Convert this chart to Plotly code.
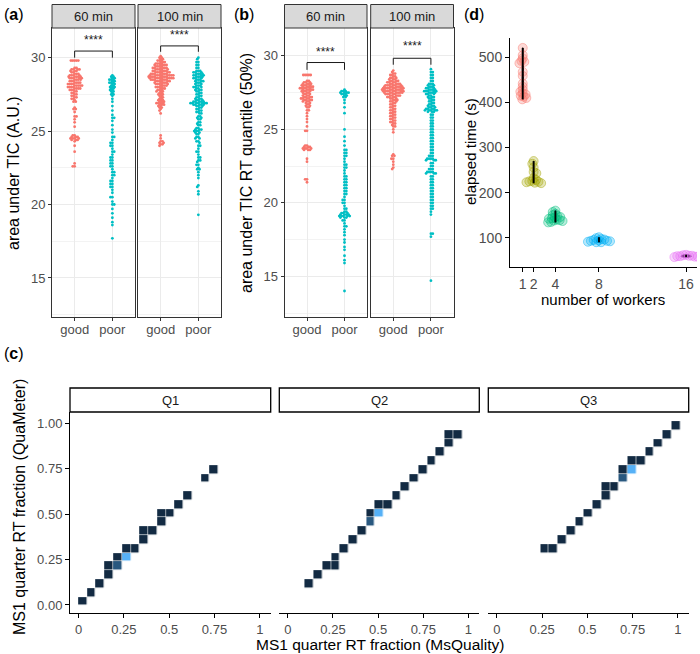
import numpy as np
import plotly.graph_objects as go

W, H = 700, 654
def px(x): return x / W
def py(y): return 1 - y / H

# ---------------- data: panel (a) area under TIC, (level, count) ----------------
a60_good_lv = [29.8, 29.3, 29.2, 29.1, 29.0, 28.9, 28.8, 28.7, 28.6, 28.5, 28.4, 28.3, 28.2, 28.1, 28.0, 27.9, 27.8, 27.7, 27.6, 27.5, 27.4, 27.3, 27.2, 27.1, 27.0, 26.6, 26.5, 26.3, 26.0, 25.8, 25.6, 25.3, 24.7, 24.6, 24.5, 24.4, 24.3, 24.0, 23.6, 22.8, 22.6]
a60_good_n  = [5, 2, 4, 3, 2, 3, 4, 5, 5, 4, 3, 4, 4, 5, 4, 4, 3, 2, 2, 2, 2, 2, 2, 1, 2, 1, 2, 1, 2, 1, 1, 1, 2, 3, 4, 3, 1, 1, 1, 1, 2]
a60_poor_lv = [28.8, 28.7, 28.6, 28.5, 28.4, 28.3, 28.2, 28.1, 28.0, 27.9, 27.8, 27.7, 27.6, 27.5, 27.4, 27.2, 27.0, 26.7, 26.4, 26.1, 25.9, 25.7, 25.4, 25.1, 24.9, 24.6, 24.4, 24.2, 24.0, 23.8, 23.6, 23.4, 23.2, 23.0, 22.8, 22.6, 22.4, 22.2, 22.0, 21.8, 21.6, 21.4, 21.2, 21.0, 20.8, 20.5, 20.2, 20.0, 19.7, 19.4, 19.1, 18.8, 18.6, 17.7]
a60_poor_n  = [1, 2, 2, 3, 2, 3, 2, 2, 3, 2, 2, 2, 1, 2, 1, 1, 1, 1, 1, 1, 2, 1, 1, 1, 1, 2, 1, 2, 2, 1, 2, 1, 2, 2, 2, 2, 1, 2, 2, 1, 2, 2, 2, 1, 1, 2, 1, 2, 1, 1, 1, 1, 1, 1]
a100_good_lv = [30.1, 30.0, 29.9, 29.8, 29.7, 29.6, 29.5, 29.4, 29.3, 29.2, 29.1, 29.0, 28.9, 28.8, 28.7, 28.6, 28.5, 28.4, 28.3, 28.2, 28.1, 28.0, 27.9, 27.8, 27.7, 27.6, 27.5, 27.4, 27.3, 27.2, 27.1, 27.0, 26.9, 26.8, 26.7, 26.6, 26.5, 26.4, 26.2, 24.7, 24.5, 24.3, 24.2, 24.1, 24.0]
a100_good_n  = [1, 2, 2, 3, 3, 4, 5, 4, 6, 5, 6, 6, 7, 9, 8, 9, 7, 6, 5, 5, 4, 4, 3, 3, 3, 2, 3, 2, 2, 2, 3, 3, 4, 3, 2, 2, 1, 1, 1, 1, 1, 2, 2, 2, 1]
a100_poor_lv = [30.0, 29.9, 29.7, 29.5, 29.3, 29.1, 29.0, 28.9, 28.8, 28.7, 28.6, 28.5, 28.4, 28.3, 28.2, 28.1, 28.0, 27.9, 27.8, 27.7, 27.6, 27.5, 27.4, 27.3, 27.2, 27.1, 27.0, 26.9, 26.8, 26.7, 26.6, 26.5, 26.4, 26.3, 26.2, 26.0, 25.9, 25.8, 25.6, 25.5, 25.4, 25.2, 25.1, 25.0, 24.9, 24.8, 24.6, 24.5, 24.3, 24.2, 24.0, 23.8, 23.6, 23.4, 23.2, 23.0, 22.9, 22.7, 22.5, 22.4, 22.2, 22.0, 21.8, 21.3, 21.2, 20.9, 20.7, 19.3]
a100_poor_n  = [1, 1, 2, 2, 2, 3, 3, 4, 4, 4, 3, 3, 3, 3, 2, 3, 3, 2, 3, 2, 2, 2, 2, 2, 3, 3, 5, 7, 5, 3, 2, 2, 2, 2, 2, 2, 2, 2, 2, 1, 2, 2, 3, 3, 2, 2, 2, 2, 2, 1, 2, 1, 2, 1, 2, 2, 1, 2, 1, 2, 1, 1, 1, 1, 1, 1, 1, 1]

# ---------------- data: panel (b) area under TIC RT quantile (50%) ----------------
b60_good_lv = [28.7, 28.3, 28.2, 28.1, 28.0, 27.9, 27.8, 27.7, 27.6, 27.5, 27.4, 27.3, 27.2, 27.1, 27.0, 26.9, 26.8, 26.7, 26.6, 26.5, 26.3, 26.1, 25.9, 25.7, 25.5, 25.2, 24.9, 23.9, 23.8, 23.7, 23.6, 23.0, 22.8, 21.6, 21.4]
b60_good_n  = [5, 2, 3, 4, 4, 5, 5, 5, 4, 3, 3, 3, 4, 4, 4, 3, 2, 2, 2, 2, 2, 1, 1, 1, 1, 1, 2, 2, 3, 4, 3, 1, 1, 2, 1]
b60_poor_lv = [27.7, 27.6, 27.5, 27.4, 27.3, 27.2, 27.0, 26.8, 26.5, 26.1, 25.0, 24.5, 24.2, 23.9, 23.6, 23.4, 23.2, 23.0, 22.8, 22.6, 22.4, 22.2, 22.0, 21.8, 21.6, 21.4, 21.2, 21.0, 20.8, 20.6, 20.4, 20.2, 20.0, 19.8, 19.6, 19.4, 19.3, 19.2, 19.1, 19.0, 18.8, 18.6, 18.4, 18.2, 18.0, 17.8, 17.5, 17.3, 17.0, 16.8, 16.4, 16.1, 15.9, 14.0]
b60_poor_n  = [1, 3, 4, 3, 2, 2, 1, 1, 1, 1, 1, 1, 1, 1, 2, 2, 2, 1, 1, 2, 2, 1, 1, 2, 2, 2, 2, 2, 2, 2, 1, 2, 2, 1, 2, 2, 3, 4, 5, 3, 2, 1, 2, 1, 1, 1, 1, 1, 1, 1, 1, 1, 1, 1]
b100_good_lv = [29.0, 28.9, 28.8, 28.7, 28.6, 28.5, 28.4, 28.3, 28.2, 28.1, 28.0, 27.9, 27.8, 27.7, 27.6, 27.5, 27.4, 27.3, 27.2, 27.1, 27.0, 26.9, 26.8, 26.7, 26.6, 26.5, 26.4, 26.3, 26.2, 26.1, 26.0, 25.9, 25.8, 25.7, 25.6, 25.5, 25.4, 25.3, 25.2, 25.0, 24.8, 23.3, 23.2, 23.0, 22.8, 22.6, 22.4, 22.3]
b100_good_n  = [1, 1, 2, 2, 2, 3, 3, 4, 4, 5, 6, 7, 8, 8, 8, 7, 5, 5, 4, 3, 3, 3, 2, 2, 2, 2, 2, 2, 2, 2, 2, 2, 2, 2, 2, 2, 2, 1, 2, 1, 1, 1, 2, 2, 1, 1, 1, 1]
b100_poor_lv = [29.1, 28.9, 28.7, 28.5, 28.3, 28.1, 28.0, 27.9, 27.8, 27.7, 27.6, 27.5, 27.4, 27.3, 27.2, 27.1, 27.0, 26.9, 26.8, 26.7, 26.6, 26.5, 26.4, 26.3, 26.2, 26.0, 25.8, 25.6, 25.4, 25.2, 25.0, 24.8, 24.6, 24.4, 24.2, 24.0, 23.8, 23.6, 23.4, 23.2, 23.0, 22.9, 22.7, 22.5, 22.3, 22.1, 22.0, 21.8, 21.6, 21.4, 21.2, 21.0, 20.8, 20.6, 20.4, 20.2, 20.0, 19.8, 19.6, 19.4, 19.2, 17.9, 17.7, 14.7]
b100_poor_n  = [1, 2, 2, 2, 2, 3, 2, 3, 3, 4, 5, 4, 3, 2, 3, 2, 2, 2, 2, 2, 3, 3, 4, 5, 3, 2, 2, 2, 2, 2, 2, 2, 2, 2, 2, 2, 2, 2, 2, 3, 4, 3, 2, 2, 3, 4, 3, 2, 2, 2, 2, 2, 2, 2, 2, 2, 2, 2, 2, 1, 1, 2, 1, 1]

groups = ["good", "poor"]
signif = "****"

# ---------------- data: panel (d) elapsed time ----------------
workers = [1, 2, 4, 8, 16]
elapsed = [
    [521, 505, 498, 492, 490, 487, 468, 459, 442, 435, 428, 424, 420, 418, 415, 413, 410, 407],
    [270, 264, 256, 246, 243, 232, 228, 226, 225, 224, 223, 222, 221],
    [160, 157, 153, 150, 148, 146, 145, 143, 142, 140, 139, 138, 137, 135, 134],
    [101, 99, 97, 96, 95, 94, 93, 93, 92, 91, 90, 90],
    [62, 61, 60, 60, 59, 59, 58, 58, 57],
]
worker_colors = ["#F8766D", "#A3A500", "#00BF7D", "#00B0F6", "#E76BF3"]

# ---------------- data: panel (c) 2D bins (bin index, count) ----------------
bin_centers = [0.022, 0.070, 0.119, 0.167, 0.215, 0.264, 0.312, 0.360, 0.408, 0.457, 0.505,
               0.553, 0.602, 0.650, 0.698, 0.746, 0.795, 0.843, 0.891, 0.940, 0.988]
q1_i = [0, 1, 2, 3, 3, 4, 4, 5, 5, 6, 7, 7, 8, 9, 9, 10, 11, 12, 14, 15]
q1_j = [0, 1, 2, 3, 4, 4, 5, 5, 6, 6, 7, 8, 8, 9, 10, 10, 11, 12, 14, 15]
q1_n = [1, 1, 1, 1, 1, 2, 1, 4, 1, 1, 1, 1, 1, 1, 1, 1, 1, 1, 1, 1]
q2_i = [2, 3, 4, 5, 5, 6, 7, 8, 9, 9, 10, 10, 11, 12, 13, 14, 15, 16, 17, 18, 18, 19]
q2_j = [2, 3, 4, 4, 5, 6, 7, 8, 9, 10, 10, 11, 11, 12, 13, 14, 15, 16, 17, 18, 19, 19]
q2_n = [1, 1, 1, 1, 1, 1, 1, 1, 2, 1, 4, 1, 1, 1, 1, 1, 1, 1, 1, 1, 1, 1]
q3_i = [5, 6, 7, 8, 9, 10, 11, 12, 12, 13, 14, 14, 15, 15, 16, 17, 18, 19, 20]
q3_j = [6, 6, 7, 8, 9, 10, 11, 12, 13, 13, 14, 15, 15, 16, 16, 17, 18, 19, 20]
q3_n = [1, 1, 1, 1, 1, 1, 1, 1, 1, 1, 2, 1, 4, 1, 1, 1, 1, 1, 1]
quarters = ["Q1", "Q2", "Q3"]

# ---------------- helpers ----------------
RED, TEAL = "#F8766D", "#00BFC4"
FONT = "Liberation Sans, Arial, Helvetica, sans-serif"
TICKC = "#4D4D4D"


def swarm(vals, y_ppu, x_ppu, d):
    ypx = np.asarray(vals, dtype=float) * y_ppu
    order = np.argsort(-ypx, kind="stable")
    placed_y, placed_x = [], []
    xs = np.zeros(len(ypx))
    for k, idx in enumerate(order):
        y = ypx[idx]
        near = [(yy, xx) for yy, xx in zip(placed_y, placed_x) if abs(yy - y) < d]
        cands = [0.0]
        for yy, xx in near:
            dx = np.sqrt(max(d * d - (yy - y) ** 2, 0))
            cands += [xx + dx, xx - dx]
        sign = 1 if k % 2 else -1
        cands.sort(key=lambda c: (round(abs(c), 6), sign * c))
        for c in cands:
            if all((c - xx) ** 2 + (y - yy) ** 2 >= d * d - 1e-6 for yy, xx in near):
                xs[idx] = c
                break
        placed_y.append(y)
        placed_x.append(xs[idx])
    return xs / x_ppu


fig = go.Figure()

Y_PPU = 14.67
X_PPU = 37.65
DOT = 1.85

panels_ab = [
    ("x", "y", a60_good_lv, a60_good_n, a60_poor_lv, a60_poor_n),
    ("x2", "y2", a100_good_lv, a100_good_n, a100_poor_lv, a100_poor_n),
    ("x3", "y3", b60_good_lv, b60_good_n, b60_poor_lv, b60_poor_n),
    ("x4", "y4", b100_good_lv, b100_good_n, b100_poor_lv, b100_poor_n),
]
for xa, ya, glv, gn, plv, pn in panels_ab:
    for pos, lv, n, col in [(1, glv, gn, RED), (2, plv, pn, TEAL)]:
        vals = np.repeat(lv, n)
        off = swarm(vals, Y_PPU, X_PPU, DOT)
        fig.add_trace(go.Scatter(x=pos + off, y=vals, mode="markers", xaxis=xa, yaxis=ya,
                                 marker=dict(size=2.8, color=col, line=dict(width=0)),
                                 hoverinfo="skip", showlegend=False))

# panel (d)
D_YPPU, D_XPPU = 0.45, 10.87
for w, vals, col in zip(workers, elapsed, worker_colors):
    off = swarm(vals, D_YPPU, D_XPPU, 3.0)
    r, g, b = int(col[1:3], 16), int(col[3:5], 16), int(col[5:7], 16)
    fig.add_trace(go.Scatter(x=w + off, y=vals, mode="markers", xaxis="x5", yaxis="y5",
                             marker=dict(size=9, color=f"rgba({r},{g},{b},0.28)",
                                         line=dict(width=1, color=f"rgba({r},{g},{b},0.45)")),
                             hoverinfo="skip", showlegend=False))
for w, vals in zip(workers, elapsed):
    fig.add_trace(go.Scatter(x=[w, w], y=[min(vals), max(vals)], mode="lines", xaxis="x5",
                             yaxis="y5", line=dict(color="black", width=1.8),
                             hoverinfo="skip", showlegend=False))
    rng = max(vals) - min(vals)
    fig.add_trace(go.Violin(x0=w, y=vals, xaxis="x5", yaxis="y5", width=max(4.8 / rng, 0.16),
                            spanmode="hard", fillcolor="black", line=dict(color="black", width=1),
                            points=False, box=dict(visible=False), meanline=dict(visible=False),
                            hoverinfo="skip", showlegend=False, opacity=1))

# panel (c)
for k, (qi, qj, qn) in enumerate([(q1_i, q1_j, q1_n), (q2_i, q2_j, q2_n), (q3_i, q3_j, q3_n)]):
    z = [[None] * len(bin_centers) for _ in bin_centers]
    for i, j, n in zip(qi, qj, qn):
        z[j][i] = n
    fig.add_trace(go.Heatmap(x=bin_centers, y=bin_centers, z=z, xaxis=f"x{6+k}", yaxis=f"y{6+k}",
                             colorscale=[[0, "#132B43"], [1, "#56B1F7"]], zmin=1, zmax=4,
                             showscale=False, xgap=0.6, ygap=0.6, hoverinfo="skip"))

# ---------------- axes ----------------
lay = dict(width=W, height=H, margin=dict(l=0, r=0, t=0, b=0), paper_bgcolor="white",
           plot_bgcolor="white", showlegend=False, font=dict(family=FONT, color="#1A1A1A"),
           violinmode="overlay")

AB_BOT = 317
ab_x = [(52, 135), (138, 221), (284.5, 367), (370.7, 453.5)]
ab_yr = [[12.34, 32.02], [12.34, 32.02], [12.23, 31.9], [12.23, 31.9]]
for k in range(4):
    sx = "" if k == 0 else str(k + 1)
    x0, x1 = ab_x[k]
    lay["xaxis" + sx] = dict(domain=[px(x0), px(x1)], range=[0.4, 2.6], anchor="y" + sx,
                             tickvals=[1, 2], ticktext=groups, showline=True, mirror=True,
                             linecolor="#333333", linewidth=1, ticks="outside", ticklen=3,
                             tickcolor="#333333", showgrid=True, gridcolor="#EBEBEB", gridwidth=1,
                             zeroline=False, tickfont=dict(size=13, color=TICKC, family=FONT),
                             ticklabelstandoff=-3)
    lay["yaxis" + sx] = dict(domain=[py(AB_BOT), py(28)], range=ab_yr[k], anchor="x" + sx,
                             tick0=0, dtick=5, showline=True, mirror=True, linecolor="#333333",
                             linewidth=1, ticks="outside" if k in (0, 2) else "", ticklen=3,
                             tickcolor="#333333", showticklabels=k in (0, 2),
                             showgrid=True, gridcolor="#EBEBEB", gridwidth=1, zeroline=False,
                             minor=dict(tick0=0, dtick=2.5, showgrid=True, gridcolor="#F3F3F3",
                                        gridwidth=0.6),
                             tickfont=dict(size=13, color=TICKC, family=FONT))

lay["xaxis5"] = dict(domain=[px(510), px(697)], range=[-0.17, 17.0], anchor="y5",
                     tickvals=workers, showline=True, linecolor="black", linewidth=1,
                     ticks="outside", ticklen=4, tickcolor="black", showgrid=False, zeroline=False,
                     tickfont=dict(size=14, color=TICKC, family=FONT))
lay["yaxis5"] = dict(domain=[py(267), py(38)], range=[35, 543], anchor="x5",
                     tickvals=[100, 200, 300, 400, 500], showline=True, linecolor="black",
                     linewidth=1, ticks="outside", ticklen=4, tickcolor="black", showgrid=False,
                     zeroline=False, tickfont=dict(size=14, color=TICKC, family=FONT))

c_x = [(70, 270.7), (279.3, 479.3), (488.3, 688.7)]
for k in range(3):
    sx = str(6 + k)
    x0, x1 = c_x[k]
    lay["xaxis" + sx] = dict(domain=[px(x0), px(x1)], range=[-0.047, 1.06], anchor="y" + sx,
                             tickvals=[0, 0.25, 0.5, 0.75, 1], ticktext=["0", "0.25", "0.5", "0.75", "1"],
                             showline=True, linecolor="black", linewidth=1, ticks="outside",
                             ticklen=4, tickcolor="black", showgrid=False, zeroline=False,
                             tickfont=dict(size=13, color=TICKC, family=FONT))
    lay["yaxis" + sx] = dict(domain=[py(613.3), py(412)], range=[-0.046, 1.062], anchor="x" + sx,
                             tickvals=[0, 0.25, 0.5, 0.75, 1],
                             ticktext=["0.00", "0.25", "0.50", "0.75", "1.00"],
                             showline=(k == 0), linecolor="black", linewidth=1,
                             ticks="outside" if k == 0 else "", ticklen=4, tickcolor="black",
                             showticklabels=(k == 0), showgrid=False, zeroline=False,
                             tickfont=dict(size=13, color=TICKC, family=FONT))

fig.update_layout(**lay)

# ---------------- strips, brackets, titles ----------------
shapes, ann = [], []
strip_lbl = ["60 min", "100 min", "60 min", "100 min"]
for k, (x0, x1) in enumerate(ab_x):
    shapes.append(dict(type="rect", xref="paper", yref="paper", x0=px(x0), x1=px(x1),
                       y0=py(28), y1=py(4.5), fillcolor="#D9D9D9",
                       line=dict(color="#333333", width=1), layer="above"))
    ann.append(dict(text=strip_lbl[k], xref="paper", yref="paper", x=px((x0 + x1) / 2),
                    y=py(16.5), xanchor="center", yanchor="middle", showarrow=False,
                    font=dict(size=13, color="#1A1A1A", family=FONT)))

brackets = [("x", "y", 30.45, 30.0, 31.2), ("x2", "y2", 30.8, 30.4, 31.55),
            ("x3", "y3", 29.55, 29.05, 30.3), ("x4", "y4", 29.84, 29.4, 30.65)]
for xa, ya, yb, yt, ytxt in brackets:
    shapes.append(dict(type="path", xref=xa, yref=ya,
                       path=f"M 1 {yt} L 1 {yb} L 2 {yb} L 2 {yt}",
                       line=dict(color="#1A1A1A", width=1)))
    ann.append(dict(text=signif, xref=xa, yref=ya, x=1.5, y=ytxt, showarrow=False,
                    xanchor="center", yanchor="middle",
                    font=dict(size=12, color="#1A1A1A", family=FONT)))

for k, (x0, x1) in enumerate(c_x):
    shapes.append(dict(type="rect", xref="paper", yref="paper", x0=px(x0), x1=px(x1),
                       y0=py(412), y1=py(388), fillcolor="white",
                       line=dict(color="black", width=1.3), layer="above"))
    ann.append(dict(text=quarters[k], xref="paper", yref="paper", x=px((x0 + x1) / 2),
                    y=py(400), xanchor="center", yanchor="middle", showarrow=False,
                    font=dict(size=13, color="#1A1A1A", family=FONT)))

def title(text, x, y, angle=0, size=15):
    ann.append(dict(text=text, xref="paper", yref="paper", x=px(x), y=py(y), showarrow=False,
                    textangle=angle, xanchor="center", yanchor="middle",
                    font=dict(size=size, color="black", family=FONT)))

title("area under TIC (A.U.)", 13, 173, -90, 16)
title("area under TIC RT quantile (50%)", 246, 173, -90, 16)
title("elapsed time (s)", 471, 152, -90, 15)
title("number of workers", 603, 299, 0, 15)
title("MS1 quarter RT fraction (QuaMeter)", 19, 507, -90, 16)
title("MS1 quarter RT fraction (MsQuality)", 380, 644, 0, 15.5)

for lbl, x, y in [("a", 2, 14), ("b", 232, 14), ("d", 462, 14), ("c", 2, 353)]:
    ann.append(dict(text=f"(<b>{lbl}</b>)", xref="paper", yref="paper", x=px(x), y=py(y),
                    xanchor="left", yanchor="middle", showarrow=False,
                    font=dict(size=16, color="black", family=FONT)))

fig.update_layout(shapes=shapes, annotations=ann)
fig.write_html("out.html", config={"displayModeBar": False},
               post_script="document.body.style.margin='0px';")
